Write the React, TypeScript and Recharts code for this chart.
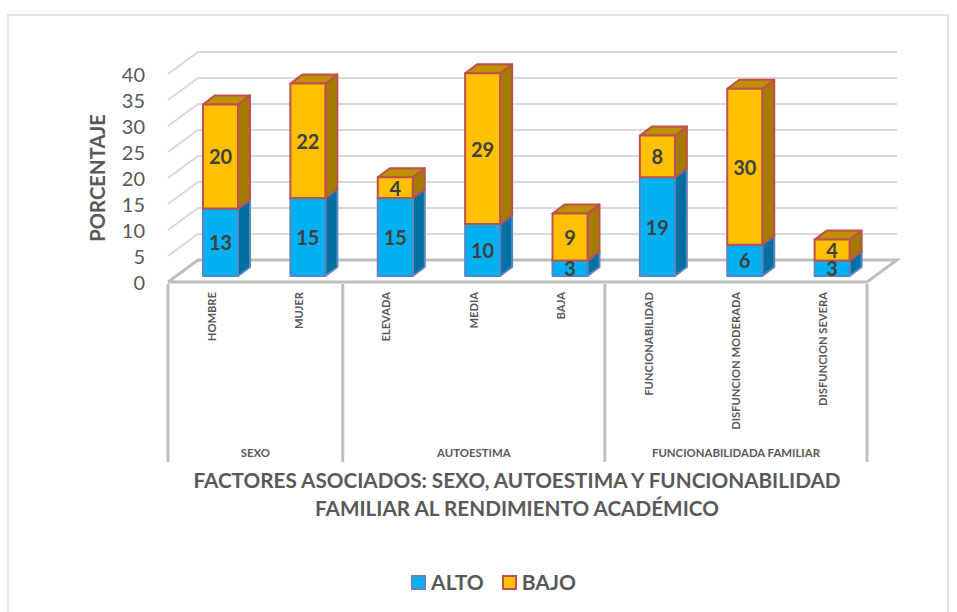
import { BarChart, Bar, XAxis, YAxis, CartesianGrid, Legend, LabelList, Label } from 'recharts'

const CATEGORIES = ['HOMBRE', 'MUJER', 'ELEVADA', 'MEDIA', 'BAJA', 'FUNCIONABILIDAD', 'DISFUNCION MODERADA', 'DISFUNCION SEVERA']
const GROUPS = ['SEXO', 'SEXO', 'AUTOESTIMA', 'AUTOESTIMA', 'AUTOESTIMA', 'FUNCIONABILIDADA FAMILIAR', 'FUNCIONABILIDADA FAMILIAR', 'FUNCIONABILIDADA FAMILIAR']
const ALTO = [13, 15, 15, 10, 3, 19, 6, 3]
const BAJO = [20, 22, 4, 29, 9, 8, 30, 4]
const Y_TICKS = [0, 5, 10, 15, 20, 25, 30, 35, 40]
const TITLE_LINES = ['FACTORES ASOCIADOS: SEXO, AUTOESTIMA Y FUNCIONABILIDAD', 'FAMILIAR AL RENDIMIENTO ACADÉMICO']

const data = CATEGORIES.map((name, i) => ({ name, alto: ALTO[i], bajo: BAJO[i] }))

const FONT = 'Lato, sans-serif'
const TEXT = '#595959'
const AXIS_LINE = '#bfbfbf'
const GRID_LINE = '#d9d9d9'

// pseudo 3d offsets: bars sit part way into the floor, the wall at the back of it
const BAR_DX = 9
const BAR_DY = -6
const SIDE_DX = 12
const SIDE_DY = -9
const WALL_DX = 30
const WALL_DY = -22
const STEP = 87.4

function Box3D({ x, y, width, height, front, side, top, stroke }: any) {
  const l = x + BAR_DX
  const r = l + width
  const t = y + BAR_DY
  const b = t + height
  return (
    <g stroke={stroke} strokeWidth={2} strokeLinejoin="round">
      <path d={`M${r} ${t}L${r + SIDE_DX} ${t + SIDE_DY}V${b + SIDE_DY}L${r} ${b}Z`} fill={side} />
      <path d={`M${l} ${t}L${l + SIDE_DX} ${t + SIDE_DY}H${r + SIDE_DX}L${r} ${t}Z`} fill={top} />
      <rect x={l} y={t} width={width} height={height} fill={front} />
    </g>
  )
}

function GridLine({ x1, x2, y1 }: any) {
  const isFloor = y1 > 270
  return (
    <path
      d={`M${x1} ${y1}${isFloor ? `H${x2}` : ''}L${isFloor ? x2 + WALL_DX : x1 + WALL_DX} ${y1 + WALL_DY}${isFloor ? `H${x1 + WALL_DX}L${x1} ${y1}` : `H${x2 + WALL_DX}`}`}
      fill="none"
      stroke={isFloor ? AXIS_LINE : GRID_LINE}
      strokeWidth={isFloor ? 3 : 2}
    />
  )
}

function BarValue({ x, y, width, height, value }: any) {
  return (
    <text
      x={x + BAR_DX + width / 2}
      y={y + BAR_DY + height / 2}
      textAnchor="middle"
      dominantBaseline="central"
      fontFamily={FONT}
      fontWeight={700}
      fontSize={20}
      fill="#404040"
    >
      {value}
    </text>
  )
}

function CategoryTick({ x, y, index, payload }: any) {
  const tx = x + 4
  const ty = y + 2
  // separators and the group name hang off the first category of each group
  const group = GROUPS[index]
  const members = GROUPS.filter(g => g === group).length
  const isFirst = GROUPS.indexOf(group) === index
  const isLast = index === GROUPS.length - 1
  const left = x - STEP / 2
  return (
    <g>
      <text
        x={tx}
        y={ty}
        transform={`rotate(-90 ${tx} ${ty})`}
        textAnchor="end"
        fontFamily={FONT}
        fontWeight={700}
        fontSize={11.2}
        fill={TEXT}
      >
        {payload.value}
      </text>
      {isFirst && <line x1={left} x2={left} y1={y - 6} y2={y + 172} stroke={AXIS_LINE} strokeWidth={3} />}
      {isLast && <line x1={x + STEP / 2} x2={x + STEP / 2} y1={y - 6} y2={y + 172} stroke={AXIS_LINE} strokeWidth={3} />}
      {isFirst && (
        <text x={left + (members * STEP) / 2} y={y + 167} textAnchor="middle" fontFamily={FONT} fontWeight={700} fontSize={11.4} fill={TEXT}>
          {group}
        </text>
      )}
    </g>
  )
}

function AxisTitle() {
  return (
    <text textAnchor="middle" fontFamily={FONT} fontWeight={700} fontSize={20.7} fill={TEXT}>
      {TITLE_LINES.map((line, i) => (
        <tspan key={line} x={517} y={488 + i * 28}>
          {line}
        </tspan>
      ))}
    </text>
  )
}

function LegendBox() {
  const items = [
    { label: 'ALTO', fill: '#00b0f0', stroke: '#5b86c4' },
    { label: 'BAJO', fill: '#ffc000', stroke: '#c0504d' },
  ]
  return (
    <div style={{ display: 'flex', justifyContent: 'center', gap: 18, fontFamily: FONT, fontWeight: 700, fontSize: 21, color: TEXT, lineHeight: '24px' }}>
      {items.map(it => (
        <div key={it.label} style={{ display: 'flex', alignItems: 'center', gap: 5 }}>
          <span style={{ width: 11, height: 11, background: it.fill, border: `2px solid ${it.stroke}`, display: 'inline-block' }} />
          {it.label}
        </div>
      ))}
    </div>
  )
}

export default function App() {
  return (
    <div style={{ position: 'absolute', left: 0, top: 0, width: 957, height: 612, background: '#fff' }}>
      <div style={{ position: 'absolute', left: 7, top: 14, width: 942, height: 598, border: '2px solid #e3e3e3', borderBottom: 'none', boxSizing: 'border-box' }} />
      <BarChart
        width={957}
        height={612}
        data={data}
        margin={{ top: 74, right: 90, bottom: 0, left: 108 }}
        barCategoryGap={0}
        style={{ position: 'absolute', left: 0, top: 0 }}
      >
        <CartesianGrid vertical={false} horizontal={(props: any) => <GridLine key={props.key} {...props} />} />
        <XAxis
          dataKey="name"
          height={306}
          axisLine={false}
          tickLine={false}
          interval={0}
          tick={<CategoryTick />}
        >
          <Label content={<AxisTitle />} />
        </XAxis>
        <YAxis
          domain={[0, 40]}
          ticks={Y_TICKS}
          width={60}
          axisLine={false}
          tickLine={false}
          interval={0}
          tickMargin={17}
          tick={{ fontFamily: FONT, fontSize: 20, fill: TEXT, dy: 1 }}
        >
          <Label
            value="PORCENTAJE"
            position="insideLeft"
            angle={-90}
            dx={-15}
            style={{ fontFamily: FONT, fontWeight: 700, fontSize: 20.3, fill: TEXT, textAnchor: 'middle' }}
          />
        </YAxis>
        <Legend verticalAlign="bottom" content={<LegendBox />} wrapperStyle={{ bottom: 18, left: 0, width: 987 }} />
        <Bar
          dataKey="alto"
          name="ALTO"
          stackId="a"
          barSize={35}
          isAnimationActive={false}
          shape={<Box3D front="#00b0f0" side="#0070a0" top="#008cc0" stroke="#5b86c4" />}
        >
          <LabelList dataKey="alto" content={<BarValue />} />
        </Bar>
        <Bar
          dataKey="bajo"
          name="BAJO"
          stackId="a"
          barSize={35}
          isAnimationActive={false}
          shape={<Box3D front="#ffc000" side="#a67c00" top="#bf9000" stroke="#c0504d" />}
        >
          <LabelList dataKey="bajo" content={<BarValue />} />
        </Bar>
      </BarChart>
    </div>
  )
}
